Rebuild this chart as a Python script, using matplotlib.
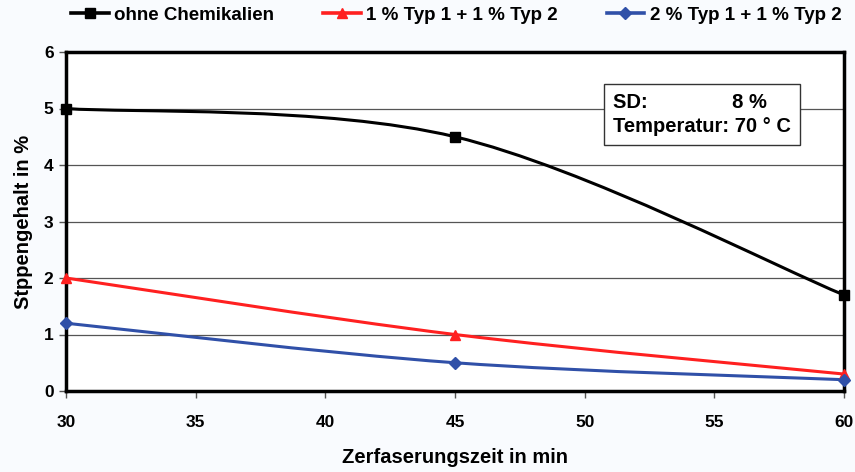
import numpy as np
import matplotlib.pyplot as plt
from matplotlib.path import Path
from matplotlib.patches import PathPatch

plt.rcParams['font.family'] = ['Liberation Sans Narrow', 'Liberation Sans', 'DejaVu Sans']
plt.rcParams['font.weight'] = 'bold'

# data
zeit = [30, 45, 60]
ohne = [5.0, 4.5, 1.7]
typ1 = [2.0, 1.0, 0.3]
typ2 = [1.2, 0.5, 0.2]
names = ['ohne Chemikalien', '1 % Typ 1 + 1 % Typ 2', '2 % Typ 1 + 1 % Typ 2']
colr = ['black', '#ff2020', '#3050a8']
marks = ['s', '^', 'D']
msize = [7, 7, 6]


def smooth_path(x, y):
    # Excel-like smoothed line: cubic bezier segments (Catmull-Rom style)
    p = np.column_stack([x, y]).astype(float)
    n = len(p)
    verts = [p[0]]
    codes = [Path.MOVETO]
    for i in range(n - 1):
        p0 = p[i - 1] if i > 0 else p[i]
        p3 = p[i + 2] if i + 2 < n else p[i + 1]
        c1 = p[i] + (p[i + 1] - p0) / 6.0
        c2 = p[i + 1] - (p3 - p[i]) / 6.0
        verts += [c1, c2, p[i + 1]]
        codes += [Path.CURVE4] * 3
    return Path(verts, codes)


fig = plt.figure(figsize=(8.55, 4.72), dpi=100, facecolor='#f9fbfe')
ax = fig.add_axes([66/855, 81/472, 778/855, 339/472])
ax.set_facecolor('white')

for ys, c, m, ms, nm in zip([ohne, typ1, typ2], colr, marks, msize, names):
    ax.add_patch(PathPatch(smooth_path(zeit, ys), fill=False, edgecolor=c, lw=2.2,
                           zorder=3, clip_on=False))
    ax.plot(zeit, ys, color=c, lw=2.2, marker=m, ms=ms, linestyle='none',
            zorder=4, clip_on=False)
    ax.plot([], [], color=c, lw=2.6, marker=m, ms=ms, label=nm)

ax.set_xlim(30, 60)
ax.set_ylim(0, 6)
ax.set_xticks(range(30, 61, 5))
ax.set_yticks(range(0, 7))
ax.yaxis.grid(True, color='#555555', lw=0.9)
ax.set_axisbelow(True)
for s in ax.spines.values():
    s.set_linewidth(2.5)
ax.tick_params(axis='both', labelsize=12.5, width=1, length=5, color='#555555')
ax.tick_params(axis='x', pad=12)
ax.tick_params(axis='y', pad=4)

ax.set_xlabel('Zerfaserungszeit in min', fontsize=14.5, fontweight='bold', labelpad=13)
ax.set_ylabel('Stppengehalt in %', fontsize=14.5, fontweight='bold', labelpad=8)

leg = fig.legend(loc='upper left', bbox_to_anchor=(60/855, 1.01), ncol=3, frameon=False,
                 fontsize=13.5, handlelength=2.0, handletextpad=0.3, columnspacing=2.6,
                 borderaxespad=0.2)

ax.text(0.703, 0.88, 'SD:               8 %\nTemperatur: 70 ° C', transform=ax.transAxes,
        fontsize=14.5, fontweight='bold', va='top', ha='left', linespacing=1.35,
        bbox=dict(boxstyle='square,pad=0.45', facecolor='white', edgecolor='#333333', lw=1))

fig.savefig('out.png', dpi=100, facecolor=fig.get_facecolor())
